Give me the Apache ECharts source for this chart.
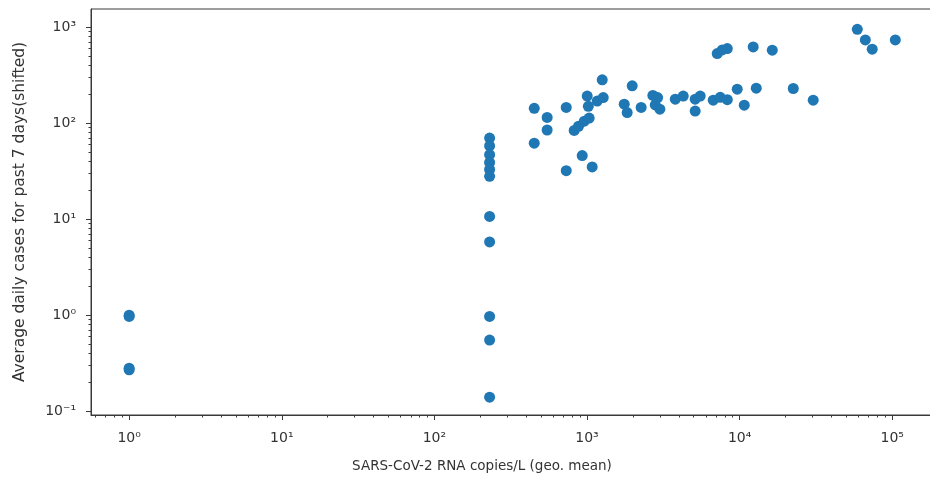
<!DOCTYPE html>
<html><head><meta charset="utf-8">
<script src="https://cdn.jsdelivr.net/npm/echarts@6/dist/echarts.min.js"></script>
<style>html,body{margin:0;padding:0;background:#fff}#c{width:930px;height:480px}</style>
</head><body><div id="c"></div>
<script>
// SARS-CoV-2 RNA copies/L (geo. mean)
const xData = [
  1, 1, 1, 1,
  230, 230, 230, 230, 230, 230, 230, 230, 230, 230, 230,
  451, 451, 548, 548, 731, 731, 824, 880, 960, 1033, 930, 1081, 1003, 1020, 1166, 1277, 1258,
  1753, 1833, 1977, 2263, 2700, 2900, 2800, 3000, 3787, 4270, 5113, 5113, 5516, 6713, 7460, 8300, 9640, 10720, 12850, 22460, 30340,
  7130, 7690, 8300, 12270, 16360,
  59000, 66600, 73900, 104700
];
// Average daily cases for past 7 days (shifted)
const yData = [
  1.0, 0.97, 0.28, 0.27,
  70, 58, 47, 39, 33, 28, 10.7, 5.8, 0.97, 0.55, 0.14,
  143, 62, 115, 85, 146, 32, 84, 93, 105, 113, 46, 35, 192, 150, 170, 185, 283,
  158, 129, 245, 146, 195, 185, 155, 140, 178, 192, 134, 178, 192, 174, 186, 176, 226, 154, 232, 230, 174,
  532, 580, 600, 624, 576,
  950, 738, 590, 738
];
const xExponents = [0, 1, 2, 3, 4, 5];
const xTickLabels = ['10⁰', '10¹', '10²', '10³', '10⁴', '10⁵'];
const yExponents = [-1, 0, 1, 2, 3];
const yTickLabels = ['10⁻¹', '10⁰', '10¹', '10²', '10³'];
const xTitle = 'SARS-CoV-2 RNA copies/L (geo. mean)';
const yTitle = 'Average daily cases for past 7 days(shifted)';

const points = xData.map((x, i) => [x, yData[i]]);
const X_MIN = Math.pow(10, -0.25), X_MAX = Math.pow(10, 5.28);
const Y_MIN = Math.pow(10, -1.04), Y_MAX = Math.pow(10, 3.19);

function majors(exps) { return exps.map(e => Math.pow(10, e)); }
function minors(lo, hi) {
  const out = [];
  for (let e = -3; e <= 6; e++) {
    for (let k = 2; k <= 9; k++) {
      const v = k * Math.pow(10, e);
      if (v > lo && v < hi) out.push(v);
    }
  }
  return out;
}
function fmt(exps, labels) {
  return function (v) {
    const l = Math.log10(v);
    const e = Math.round(l);
    const i = exps.indexOf(e);
    return (Math.abs(l - e) < 1e-6 && i >= 0) ? labels[i] : '';
  };
}
const font = 'DejaVu Sans';
const axisCol = '#3a3a3a';
const gridRect = {left: 91, top: 9, width: 844, height: 406, containLabel: false, outerBoundsMode: 'none'};
const chart = echarts.init(document.getElementById('c'), null, {renderer: 'canvas'});
chart.setOption({
  animation: false,
  backgroundColor: '#fff',
  grid: [
    Object.assign({show: true, borderColor: axisCol, borderWidth: 1, backgroundColor: 'transparent'}, gridRect),
    Object.assign({show: false}, gridRect)
  ],
  xAxis: [{
    gridIndex: 0, type: 'log', logBase: 10, min: X_MIN, max: X_MAX, position: 'bottom',
    name: xTitle, nameLocation: 'middle', nameGap: 44,
    nameTextStyle: {fontFamily: font, fontSize: 13.5, color: '#333', padding: [0, 62, 0, 0]},
    axisLine: {show: true, lineStyle: {color: axisCol, width: 1}},
    axisTick: {show: true, inside: false, length: 5, lineStyle: {color: axisCol}, customValues: majors(xExponents)},
    minorTick: {show: false},
    splitLine: {show: false},
    axisLabel: {fontFamily: font, fontSize: 14, color: '#333', margin: 16,
      customValues: majors(xExponents), formatter: fmt(xExponents, xTickLabels)}
  }, {
    gridIndex: 1, type: 'log', logBase: 10, min: X_MIN, max: X_MAX, position: 'bottom',
    axisLine: {show: false},
    axisTick: {show: true, inside: false, length: 2.5, lineStyle: {color: axisCol}, customValues: minors(X_MIN, X_MAX)},
    splitLine: {show: false},
    axisLabel: {show: false}
  }],
  yAxis: [{
    gridIndex: 0, type: 'log', logBase: 10, min: Y_MIN, max: Y_MAX, position: 'left',
    name: yTitle, nameLocation: 'middle', nameGap: 63,
    nameTextStyle: {fontFamily: font, fontSize: 15.5, color: '#333'},
    axisLine: {show: true, lineStyle: {color: axisCol, width: 1}},
    axisTick: {show: true, inside: false, length: 5, lineStyle: {color: axisCol}, customValues: majors(yExponents)},
    minorTick: {show: false},
    splitLine: {show: false},
    axisLabel: {fontFamily: font, fontSize: 14, color: '#333', margin: 15,
      customValues: majors(yExponents), formatter: fmt(yExponents, yTickLabels)}
  }, {
    gridIndex: 1, type: 'log', logBase: 10, min: Y_MIN, max: Y_MAX, position: 'left',
    axisLine: {show: false},
    axisTick: {show: true, inside: false, length: 2.5, lineStyle: {color: axisCol}, customValues: minors(Y_MIN, Y_MAX)},
    splitLine: {show: false},
    axisLabel: {show: false}
  }],
  series: [{
    type: 'scatter',
    xAxisIndex: 0, yAxisIndex: 0,
    data: points,
    symbol: 'circle',
    symbolSize: 11,
    itemStyle: {color: '#1f77b4', opacity: 1}
  }]
});
</script>
</body></html>
